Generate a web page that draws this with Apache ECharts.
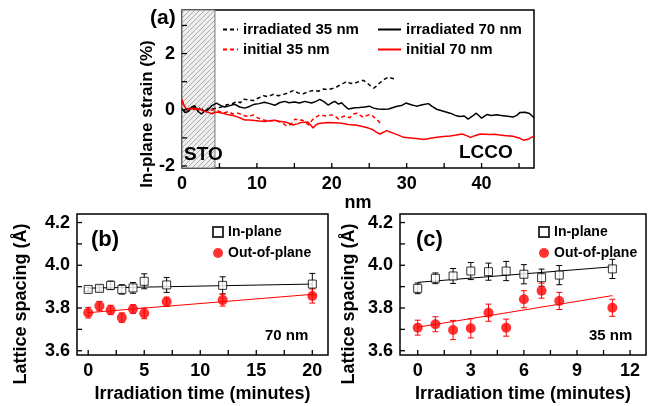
<!DOCTYPE html>
<html lang="en">
<head>
<meta charset="UTF-8">
<title>Strain and lattice spacing</title>
<script src="https://cdn.jsdelivr.net/npm/echarts@6.0.0/dist/echarts.min.js"></script>
<style>
  html, body { margin: 0; padding: 0; background: #fff; }
  #chart { width: 649px; height: 406px; }
</style>
</head>
<body>
<div id="chart"></div>
<script>
// ---- panel (a): in-plane strain profiles [nm, %] ----
var irr35 = [[0,0.02],[0.5,-0.08],[1,0.05],[1.5,0.12],[2,-0.05],[2.5,0.1],[3,-0.1],[3.5,0.05],[4,0.02],[4.6,0.06],[5.3,0.1],[6,0.18],[6.6,0.2],[7.3,0.3],[7.8,0.25],[8.2,0.38],[8.9,0.35],[9.6,0.33],[10.2,0.42],[10.9,0.5],[11.5,0.47],[12.2,0.55],[12.9,0.5],[13.6,0.55],[14.2,0.6],[14.9,0.69],[15.5,0.6],[16.2,0.57],[16.9,0.65],[17.6,0.69],[18.2,0.66],[18.9,0.74],[19.5,0.72],[20.2,0.77],[20.7,0.82],[21.1,0.89],[21.6,0.95],[22,1.01],[22.5,0.94],[23.1,0.95],[23.7,1.01],[24.2,1.05],[24.6,0.98],[25,0.89],[25.6,0.77],[26,0.85],[26.5,0.98],[27,1.08],[27.6,1.17],[28,1.12],[28.5,1.1]];
var init35 = [[0,0.3],[0.3,0.1],[0.8,0],[1.3,0.05],[1.8,-0.02],[2.4,0.03],[3,-0.05],[3.6,-0.02],[4.4,0],[5,-0.06],[5.5,-0.12],[6.2,-0.06],[6.8,-0.15],[7.5,-0.12],[8.2,-0.2],[8.9,-0.24],[9.5,-0.18],[10.2,-0.3],[10.9,-0.36],[11.6,-0.4],[12.3,-0.38],[12.9,-0.42],[13.5,-0.48],[14,-0.58],[14.6,-0.5],[15.1,-0.33],[15.6,-0.38],[16,-0.36],[16.5,-0.45],[16.9,-0.54],[17.4,-0.36],[17.8,-0.27],[18.4,-0.18],[19.1,-0.22],[19.6,-0.2],[20,-0.18],[20.5,-0.24],[20.9,-0.33],[21.4,-0.25],[21.8,-0.22],[22.4,-0.28],[22.9,-0.15],[23.3,-0.12],[23.8,-0.2],[24.2,-0.27],[24.7,-0.2],[25,-0.17],[25.4,-0.2],[25.8,-0.3],[26.3,-0.42],[26.5,-0.5]];
var irr70 = [[0,0.05],[0.4,-0.1],[0.9,-0.05],[1.3,0.1],[1.7,0.15],[2.1,-0.05],[2.6,-0.15],[3,-0.05],[3.5,0],[4,0.15],[4.6,0.24],[5.2,0.15],[5.7,0.1],[6.3,0.14],[7,0.2],[7.7,0.1],[8.4,0.06],[9,0.12],[9.7,0.2],[10.3,0.22],[11,0.27],[11.7,0.22],[12.4,0.16],[13,0.25],[13.7,0.3],[14.3,0.25],[15,0.28],[15.7,0.24],[16.4,0.3],[17.3,0.24],[17.9,0.3],[18.4,0.37],[19,0.28],[19.5,0.17],[20,0.25],[20.4,0.3],[20.9,0.2],[21.3,0.25],[21.8,0.12],[22.2,0.03],[23.1,0.07],[23.7,0.08],[24.4,0.1],[25,0.13],[25.6,0.06],[26.2,0.03],[26.8,0.02],[27.6,0.03],[28.6,0.12],[29.3,0.15],[29.9,0.24],[30.6,0.18],[31.3,0.13],[32.1,0.18],[32.9,0.22],[33.4,0.12],[34,0.02],[34.9,-0.05],[35.8,-0.12],[36.5,-0.2],[37.1,-0.24],[37.7,-0.22],[38.2,-0.33],[38.8,-0.22],[39.3,-0.12],[39.7,-0.22],[40,-0.3],[40.7,-0.17],[41.3,-0.2],[42,-0.18],[42.6,-0.2],[43.2,-0.22],[44.2,-0.26],[44.7,-0.2],[45.1,-0.1],[45.8,-0.09],[46.4,-0.13],[47,-0.28]];
var init70 = [[0,0.38],[0.2,0.2],[0.5,0.05],[1,0.02],[1.5,0.05],[2.2,0.04],[2.7,-0.03],[3.1,-0.06],[3.6,-0.1],[4,-0.14],[4.5,-0.08],[4.9,-0.1],[5.5,-0.12],[6.2,-0.18],[6.8,-0.2],[7.5,-0.26],[8,-0.32],[8.4,-0.36],[9,-0.36],[9.7,-0.38],[10.3,-0.4],[11,-0.42],[11.7,-0.39],[12.4,-0.37],[13,-0.41],[13.7,-0.43],[14.3,-0.48],[14.8,-0.54],[15.4,-0.5],[15.9,-0.45],[16.4,-0.44],[16.8,-0.43],[17.2,-0.55],[17.5,-0.65],[17.8,-0.56],[18.1,-0.5],[18.8,-0.47],[19.5,-0.45],[20.4,-0.46],[21.3,-0.48],[22.2,-0.52],[23.1,-0.54],[23.7,-0.57],[24.2,-0.6],[24.9,-0.65],[25.5,-0.71],[26,-0.8],[26.4,-0.86],[26.9,-0.8],[27.3,-0.74],[27.8,-0.79],[28.2,-0.83],[28.9,-0.9],[29.6,-0.98],[30.2,-0.99],[30.9,-1.01],[31.6,-1.03],[32.3,-1.06],[32.8,-1.03],[33.4,-1],[34,-0.98],[34.9,-0.95],[35.8,-0.93],[36.6,-0.9],[37.4,-0.86],[38,-0.92],[38.5,-0.98],[39.1,-0.92],[39.8,-0.86],[40.5,-0.87],[41.1,-0.88],[41.8,-0.87],[42.4,-0.9],[43.3,-0.92],[44.2,-0.94],[45,-1],[45.6,-1.08],[46.2,-1.05],[47,-0.93]];
var stoEnd = 4.4;

// ---- panel (b): 70 nm film ----
var bTime   = [0, 1, 2, 3, 4, 5, 7, 12, 20];
var bIn     = [3.887, 3.892, 3.906, 3.887, 3.894, 3.925, 3.908, 3.906, 3.912];
var bInErr  = [0.01, 0.012, 0.02, 0.022, 0.025, 0.035, 0.035, 0.04, 0.05];
var bOut    = [3.778, 3.809, 3.791, 3.755, 3.795, 3.775, 3.829, 3.837, 3.856];
var bOutErr = [0.025, 0.022, 0.022, 0.022, 0.02, 0.025, 0.022, 0.028, 0.033];
var bInFit  = [[0, 3.893], [20, 3.912]];
var bOutFit = [[0, 3.778], [20, 3.864]];

// ---- panel (c): 35 nm film ----
var cTime   = [0, 1, 2, 3, 4, 5, 6, 7, 8, 11];
var cIn     = [3.892, 3.939, 3.95, 3.973, 3.97, 3.973, 3.958, 3.942, 3.954, 3.983];
var cInErr  = [0.025, 0.025, 0.035, 0.04, 0.04, 0.045, 0.045, 0.04, 0.045, 0.045];
var cOut    = [3.708, 3.724, 3.697, 3.705, 3.778, 3.708, 3.841, 3.881, 3.833, 3.801];
var cOutErr = [0.035, 0.035, 0.045, 0.045, 0.04, 0.04, 0.04, 0.035, 0.04, 0.04];
var cInFit  = [[0, 3.92], [11, 3.993]];
var cOutFit = [[0, 3.71], [11, 3.858]];

// ---- ticks ----
var aXTicks = [5, 10, 15, 20, 25, 30, 35, 40, 45];
var aXLabels = [0, 10, 20, 30, 40];
var aYTicks = [-2, -1, 0, 1, 2, 3];
var aYLabels = [-2, 0, 2];
var bXTicks = [0, 2.5, 5, 7.5, 10, 12.5, 15, 17.5, 20];
var bXLabels = [0, 5, 10, 15, 20];
var cXTicks = [0, 1.5, 3, 4.5, 6, 7.5, 9, 10.5, 12];
var cXLabels = [0, 3, 6, 9, 12];
var latTicks = [3.6, 3.7, 3.8, 3.9, 4.0, 4.1, 4.2];
var latLabels = [3.6, 3.8, 4.0, 4.2];

var FONT = 'Liberation Sans, Arial, sans-serif';

function zip(xs, ys, es) {
    return xs.map(function (x, i) { return es ? [x, ys[i], es[i]] : [x, ys[i]]; });
}

// hatch pattern for the substrate band
var pat = document.createElement('canvas');
pat.width = 5; pat.height = 5;
var g = pat.getContext('2d');
g.fillStyle = '#efefef';
g.fillRect(0, 0, 5, 5);
g.strokeStyle = '#9a9a9a';
g.lineWidth = 0.8;
g.beginPath();
g.moveTo(0, 5); g.lineTo(5, 0);
g.moveTo(-1, 1); g.lineTo(1, -1);
g.moveTo(4, 6); g.lineTo(6, 4);
g.stroke();

function xAxisOf(idx, min, max, labels, name, gap) {
    return {
        type: 'value', gridIndex: idx, min: min, max: max,
        axisLine: { show: false, onZero: false },
        splitLine: { show: false },
        axisTick: { show: false },
        axisLabel: { customValues: labels, color: '#000', fontSize: 18, fontWeight: 'bold', fontFamily: FONT, margin: 7 },
        name: name, nameLocation: 'middle', nameGap: gap,
        nameTextStyle: { color: '#000', fontSize: 18, fontWeight: 'bold', fontFamily: FONT }
    };
}
function yAxisOf(idx, min, max, labels, fmt) {
    return {
        type: 'value', gridIndex: idx, min: min, max: max,
        axisLine: { show: false, onZero: false },
        splitLine: { show: false },
        axisTick: { show: false },
        axisLabel: { customValues: labels, color: '#000', fontSize: 18, fontWeight: 'bold', fontFamily: FONT, margin: 7, formatter: fmt }
    };
}

// inward tick marks on the bottom (dim 0) or left (dim 1) frame edge
function ticks(idx, values, dim, other) {
    return {
        type: 'custom', xAxisIndex: idx, yAxisIndex: idx, z: 6, silent: true, clip: false,
        data: values.map(function (v) { return dim === 0 ? [v, other] : [other, v]; }),
        renderItem: function (params, api) {
            var cs = params.coordSys, p = api.coord([api.value(0), api.value(1)]), len = 5, shape;
            if (dim === 0) {
                var by = cs.y + cs.height;
                shape = { x1: p[0], y1: by, x2: p[0], y2: by - len };
            } else {
                shape = { x1: cs.x, y1: p[1], x2: cs.x + len, y2: p[1] };
            }
            return { type: 'line', shape: shape, style: { stroke: '#000', lineWidth: 1.3 } };
        }
    };
}

function errorBars(idx, data, color) {
    return {
        type: 'custom', xAxisIndex: idx, yAxisIndex: idx, data: data, z: 2, silent: true,
        renderItem: function (params, api) {
            var x = api.value(0), y = api.value(1), e = api.value(2);
            var hi = api.coord([x, y + e]), lo = api.coord([x, y - e]);
            var st = { stroke: color, lineWidth: 1 };
            return { type: 'group', children: [
                { type: 'line', shape: { x1: hi[0], y1: hi[1], x2: lo[0], y2: lo[1] }, style: st },
                { type: 'line', shape: { x1: hi[0] - 3, y1: hi[1], x2: hi[0] + 3, y2: hi[1] }, style: st },
                { type: 'line', shape: { x1: lo[0] - 3, y1: lo[1], x2: lo[0] + 3, y2: lo[1] }, style: st }
            ] };
        }
    };
}
function fitLine(idx, data, color) {
    return { type: 'line', xAxisIndex: idx, yAxisIndex: idx, data: data, symbol: 'none', z: 1, silent: true,
             lineStyle: { color: color, width: 1 } };
}
function inPlane(idx, data) {
    return { name: 'In-plane', type: 'scatter', xAxisIndex: idx, yAxisIndex: idx, data: data, z: 4,
             symbol: 'rect', symbolSize: 8,
             itemStyle: { color: '#fff', borderColor: '#000', borderWidth: 1 } };
}
function outPlane(idx, data) {
    return { name: 'Out-of-plane', type: 'scatter', xAxisIndex: idx, yAxisIndex: idx, data: data, z: 4,
             symbol: 'circle', symbolSize: 10,
             itemStyle: { color: '#ff0000' } };
}
function strain(name, data, color, dashed) {
    return { name: name, type: 'line', xAxisIndex: 0, yAxisIndex: 0, data: data, symbol: 'none', z: 3,
             lineStyle: { color: color, width: 1.5, type: dashed ? [4, 3] : 'solid' },
             itemStyle: { color: color } };
}

var legendText = { color: '#000', fontSize: 15, fontWeight: 'bold', fontFamily: FONT };
var smallText = { color: '#000', fontSize: 14, fontWeight: 'bold', fontFamily: FONT };

var chart = echarts.init(document.getElementById('chart'), null, { renderer: 'canvas' });

var stoSeries = strain('irradiated 70 nm', irr70, '#000', false);
stoSeries.markArea = {
    silent: true,
    itemStyle: { color: { image: pat, repeat: 'repeat' }, borderColor: '#777', borderWidth: 1 },
    data: [[{ xAxis: 0 }, { xAxis: stoEnd }]]
};

var option = {
    animation: false,
    backgroundColor: '#fff',
    grid: [
        { left: 182, top: 10, width: 352, height: 158, show: true, borderColor: '#000', borderWidth: 1.5, backgroundColor: 'transparent' },
        { left: 77, top: 214, width: 251, height: 141, show: true, borderColor: '#000', borderWidth: 1.5, backgroundColor: 'transparent' },
        { left: 400, top: 214, width: 246, height: 141, show: true, borderColor: '#000', borderWidth: 1.5, backgroundColor: 'transparent' }
    ],
    xAxis: [
        xAxisOf(0, 0, 47, aXLabels, 'nm', 19),
        xAxisOf(1, -1, 21.4, bXLabels, 'Irradiation time (minutes)', 30),
        xAxisOf(2, -1, 12.9, cXLabels, 'Irradiation time (minutes)', 30)
    ],
    yAxis: [
        yAxisOf(0, -2.07, 3.55, aYLabels, function (v) { return String(v); }),
        yAxisOf(1, 3.58, 4.24, latLabels, function (v) { return v.toFixed(1); }),
        yAxisOf(2, 3.58, 4.24, latLabels, function (v) { return v.toFixed(1); })
    ],
    legend: [
        { left: 217, top: 17, orient: 'vertical', itemWidth: 15, itemHeight: 12, itemGap: 5, itemTextGap: 5, textStyle: legendText,
          itemStyle: { opacity: 0 }, data: ['irradiated 35 nm', 'initial 35 nm'] },
        { left: 372, top: 17, orient: 'vertical', itemWidth: 23, itemHeight: 12, itemGap: 5, itemTextGap: 3, textStyle: legendText,
          itemStyle: { opacity: 0 }, data: ['irradiated 70 nm', 'initial 70 nm'] },
        { left: 207, top: 220, orient: 'vertical', itemWidth: 10, itemHeight: 10, itemGap: 7, itemTextGap: 4, textStyle: smallText,
          data: ['In-plane', 'Out-of-plane'] },
        { left: 533, top: 220, orient: 'vertical', itemWidth: 10, itemHeight: 10, itemGap: 7, itemTextGap: 3, textStyle: smallText,
          data: ['In-plane', 'Out-of-plane'] }
    ],
    graphic: [
        { type: 'text', left: 150, top: 8, style: { text: '(a)', fill: '#000', font: 'bold 21px ' + FONT } },
        { type: 'text', left: 91, top: 229, style: { text: '(b)', fill: '#000', font: 'bold 22px ' + FONT } },
        { type: 'text', left: 416, top: 229, style: { text: '(c)', fill: '#000', font: 'bold 22px ' + FONT } },
        { type: 'text', left: 184, top: 145, z: 10, style: { text: 'STO', fill: '#000', font: 'bold 19px ' + FONT } },
        { type: 'text', left: 459, top: 143, style: { text: 'LCCO', fill: '#000', font: 'bold 19px ' + FONT } },
        { type: 'text', left: 265, top: 328, style: { text: '70 nm', fill: '#000', font: 'bold 15px ' + FONT } },
        { type: 'text', left: 589, top: 328, style: { text: '35 nm', fill: '#000', font: 'bold 15px ' + FONT } },
        { type: 'text', x: 147, y: 114, rotation: Math.PI / 2,
          style: { text: 'In-plane strain (%)', fill: '#000', font: 'bold 17px ' + FONT, align: 'center', verticalAlign: 'middle' } },
        { type: 'text', x: 21, y: 304, rotation: Math.PI / 2,
          style: { text: 'Lattice spacing (\u00c5)', fill: '#000', font: 'bold 18px ' + FONT, align: 'center', verticalAlign: 'middle' } },
        { type: 'text', x: 349, y: 304, rotation: Math.PI / 2,
          style: { text: 'Lattice spacing (\u00c5)', fill: '#000', font: 'bold 18px ' + FONT, align: 'center', verticalAlign: 'middle' } }
    ],
    series: [
        strain('irradiated 35 nm', irr35, '#000', true),
        strain('initial 35 nm', init35, '#ff0000', true),
        stoSeries,
        strain('initial 70 nm', init70, '#ff0000', false),

        fitLine(1, bInFit, '#000'),
        fitLine(1, bOutFit, '#ff0000'),
        errorBars(1, zip(bTime, bIn, bInErr), '#000'),
        errorBars(1, zip(bTime, bOut, bOutErr), '#ff0000'),
        inPlane(1, zip(bTime, bIn)),
        outPlane(1, zip(bTime, bOut)),

        fitLine(2, cInFit, '#000'),
        fitLine(2, cOutFit, '#ff0000'),
        errorBars(2, zip(cTime, cIn, cInErr), '#000'),
        errorBars(2, zip(cTime, cOut, cOutErr), '#ff0000'),
        inPlane(2, zip(cTime, cIn)),
        outPlane(2, zip(cTime, cOut)),

        ticks(0, aXTicks, 0, 0), ticks(0, aYTicks, 1, 0),
        ticks(1, bXTicks, 0, 3.9), ticks(1, latTicks, 1, 0),
        ticks(2, cXTicks, 0, 3.9), ticks(2, latTicks, 1, 0)
    ]
};

chart.setOption(option);
</script>
</body>
</html>
